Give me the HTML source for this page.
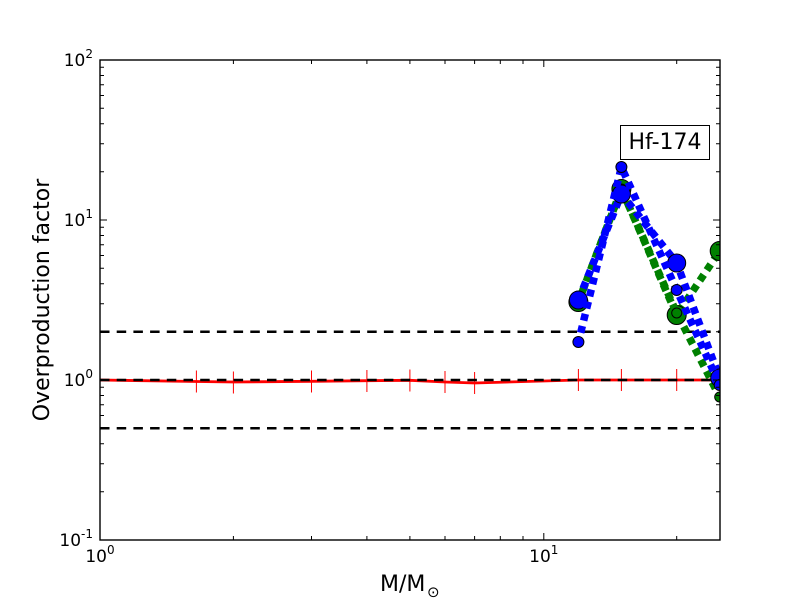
<!DOCTYPE html>
<html>
<head>
<meta charset="utf-8">
<style>
html,body{margin:0;padding:0;background:#fff;}
svg{display:block;}
text{font-family:"DejaVu Sans","Liberation Sans",sans-serif;fill:#000;}
</style>
</head>
<body>
<svg width="800" height="600" viewBox="0 0 800 600" xmlns="http://www.w3.org/2000/svg">
<defs>
<clipPath id="ax"><rect x="100" y="60" width="620" height="480"/></clipPath>
</defs>
<rect x="0" y="0" width="800" height="600" fill="#fff"/>

<g clip-path="url(#ax)">
  <!-- red line with error bars -->
  <polyline fill="none" stroke="#ff0000" stroke-width="2.8" points="100,380 196.4,381.5 233.4,382 311.5,381.3 366.9,380.7 409.9,380.3 445,382 474.6,383 578.4,380 621.4,380 676.7,380 719.7,380"/>
  <path fill="none" stroke="#ff0000" stroke-width="1" d="M196.4,370.5v22 M233.4,371.5v22 M311.5,370.5v22 M366.9,370v22 M409.9,369.5v22 M445,371v22 M474.6,372v22 M578.4,369v22 M621.4,369v22 M676.7,369v22 M719.7,369v22"/>
  <!-- black dashed -->
  <g fill="none" stroke="#000" stroke-width="2.5" stroke-dasharray="9.5 7.2">
    <path d="M100,331.8H720"/>
    <path d="M100,380H720"/>
    <path d="M100,428.2H720"/>
  </g>
  <!-- green A -->
  <polyline fill="none" stroke="#008000" stroke-width="7.5" stroke-dasharray="7 5.5" points="578.4,302 621.4,189 676.7,315 719.7,251"/>
  <g fill="#008000" stroke="#000" stroke-width="1">
    <circle cx="578.4" cy="302" r="9.5"/>
    <circle cx="621.4" cy="189" r="9.5"/>
    <circle cx="676.7" cy="315" r="9.5"/>
    <circle cx="719.7" cy="251" r="9.5"/>
  </g>
  <!-- green B -->
  <polyline fill="none" stroke="#008000" stroke-width="7.5" stroke-dasharray="7 5.5" stroke-dashoffset="3" points="578.4,302 621.4,189 676.7,313 719.7,397"/>
  <g fill="#008000" stroke="#000" stroke-width="1">
    <circle cx="578.4" cy="302" r="5"/>
    <circle cx="621.4" cy="189" r="5"/>
    <circle cx="676.7" cy="313" r="5"/>
    <circle cx="719.7" cy="397" r="5"/>
  </g>
  <!-- blue A -->
  <polyline fill="none" stroke="#0000ff" stroke-width="7.5" stroke-dasharray="7 5.5" points="578.4,300 621.4,194 676.7,263 719.7,378"/>
  <g fill="#0000ff" stroke="#000" stroke-width="1">
    <circle cx="578.4" cy="300" r="9"/>
    <circle cx="621.4" cy="194" r="9"/>
    <circle cx="676.7" cy="263" r="9"/>
    <circle cx="719.7" cy="378" r="9"/>
  </g>
  <!-- blue B -->
  <polyline fill="none" stroke="#0000ff" stroke-width="7.5" stroke-dasharray="7 5.5" stroke-dashoffset="3" points="578.4,342 621.4,167 676.7,290 719.7,385"/>
  <g fill="#0000ff" stroke="#000" stroke-width="1">
    <circle cx="578.4" cy="342" r="5.5"/>
    <circle cx="621.4" cy="167" r="5.5"/>
    <circle cx="676.7" cy="290" r="5.5"/>
    <circle cx="719.7" cy="385" r="5.5"/>
  </g>
</g>

<!-- frame -->
<rect x="100" y="60" width="620" height="480" fill="none" stroke="#000" stroke-width="1.4"/>

<!-- ticks -->
<g fill="none" stroke="#000" stroke-width="1">
  <path d="M100,60h7 M100,220h7 M100,380h7 M100,540h7 M720,60h-7 M720,220h-7 M720,380h-7 M720,540h-7"/>
  <path d="M100,491.8h4 M100,463.7h4 M100,443.7h4 M100,428.2h4 M100,415.5h4 M100,404.8h4 M100,395.5h4 M100,387.3h4
           M100,331.8h4 M100,303.7h4 M100,283.7h4 M100,268.2h4 M100,255.5h4 M100,244.8h4 M100,235.5h4 M100,227.3h4
           M100,171.8h4 M100,143.7h4 M100,123.7h4 M100,108.2h4 M100,95.5h4 M100,84.8h4 M100,75.5h4 M100,67.3h4"/>
  <path d="M720,491.8h-4 M720,463.7h-4 M720,443.7h-4 M720,428.2h-4 M720,415.5h-4 M720,404.8h-4 M720,395.5h-4 M720,387.3h-4
           M720,331.8h-4 M720,303.7h-4 M720,283.7h-4 M720,268.2h-4 M720,255.5h-4 M720,244.8h-4 M720,235.5h-4 M720,227.3h-4
           M720,171.8h-4 M720,143.7h-4 M720,123.7h-4 M720,108.2h-4 M720,95.5h-4 M720,84.8h-4 M720,75.5h-4 M720,67.3h-4"/>
  <path d="M100,540v-7 M543.8,540v-7 M100,60v7 M543.8,60v7"/>
  <path d="M233.4,540v-4 M311.5,540v-4 M366.9,540v-4 M409.9,540v-4 M445,540v-4 M474.6,540v-4 M500.3,540v-4 M523,540v-4 M676.7,540v-4
           M233.4,60v4 M311.5,60v4 M366.9,60v4 M409.9,60v4 M445,60v4 M474.6,60v4 M500.3,60v4 M523,60v4 M676.7,60v4"/>
</g>

<!-- y tick labels -->
<g font-size="17">
  <text x="93" y="66" text-anchor="end">10<tspan dy="-8" font-size="12">2</tspan></text>
  <text x="93" y="226" text-anchor="end">10<tspan dy="-8" font-size="12">1</tspan></text>
  <text x="93" y="386" text-anchor="end">10<tspan dy="-8" font-size="12">0</tspan></text>
  <text x="93" y="546" text-anchor="end">10<tspan dy="-8" font-size="12">-1</tspan></text>
</g>
<!-- x tick labels -->
<g font-size="17">
  <text x="100" y="562" text-anchor="middle">10<tspan dy="-8" font-size="12">0</tspan></text>
  <text x="543.8" y="562" text-anchor="middle">10<tspan dy="-8" font-size="12">1</tspan></text>
</g>

<!-- axis labels -->
<text x="380" y="591" font-size="22">M/M</text>
<text x="427" y="597" font-size="15">⊙</text>
<text transform="translate(49,300) rotate(-90)" text-anchor="middle" font-size="22">Overproduction factor</text>

<!-- annotation box -->
<rect x="620.5" y="125.5" width="89" height="34" fill="#fff" stroke="#000" stroke-width="1"/>
<text x="665" y="149" text-anchor="middle" font-size="22">Hf-174</text>
</svg>
</body>
</html>
